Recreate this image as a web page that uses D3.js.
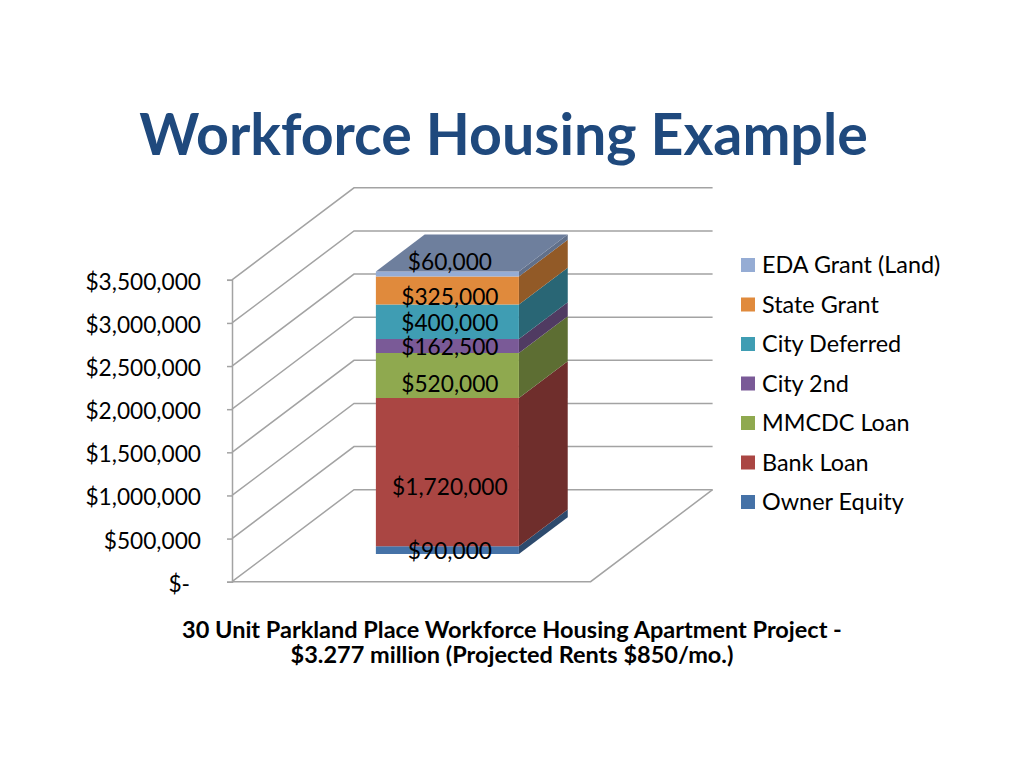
<!DOCTYPE html>
<html>
<head>
<meta charset="utf-8">
<title>Workforce Housing Example</title>
<script src="https://cdn.jsdelivr.net/npm/d3@7"></script>
<style>
    html, body { margin: 0; background: #fff; }
    svg { display: block; }
    text { font-family: Lato, "Open Sans", sans-serif; }
</style>
</head>
<body>
<svg id="chart" width="1024" height="768"></svg>
<script>
// bottom of the stack first
var seriesNames = ["Owner Equity", "Bank Loan", "MMCDC Loan", "City 2nd", "City Deferred", "State Grant", "EDA Grant (Land)"];
var seriesValues = [90000, 1720000, 520000, 162500, 400000, 325000, 60000];
var seriesColors = ["#4572a7", "#aa4643", "#8fa94f", "#7a5a97", "#3f9db3", "#e08a3c", "#95acd4"];
var categories = ["30 Unit Parkland Place"];
var tickValues = [0, 500000, 1000000, 1500000, 2000000, 2500000, 3000000, 3500000];
var tickLabels = ["$-", "$500,000", "$1,000,000", "$1,500,000", "$2,000,000", "$2,500,000", "$3,000,000", "$3,500,000"];
var axisTitle = ["30 Unit Parkland Place Workforce Housing Apartment Project -", "$3.277 million (Projected Rents $850/mo.)"];

var svg = d3.select("#chart");

// the box: front plane plus a depth vector
var depthX = 122, depthY = -92;
var barDepthStart = 0.3, barDepthEnd = 0.7;
var wallRight = 712.6 - depthX;

var y = d3.scaleLinear().domain([0, 3500000]).range([581.7, 279.8]);
var x = d3.scaleBand().domain(categories).range([232, wallRight - 1]).paddingInner(0).paddingOuter(0.75);

function project(px, py, t) {
    return [px + t * depthX, py + t * depthY];
}
var line = d3.line();
var gridColor = "#a3a3a3";

// wall and gridlines
tickValues.forEach(function (v) {
    svg.append("path")
        .attr("d", line([[232, y(v)], project(232, y(v), 1), project(wallRight, y(v), 1)]))
        .attr("fill", "none")
        .attr("stroke", gridColor)
        .attr("stroke-width", 1.5);
});

// floor
svg.append("path")
    .attr("d", line([[232, y(0)], [wallRight, y(0)], project(wallRight, y(0), 1)]))
    .attr("fill", "none")
    .attr("stroke", gridColor)
    .attr("stroke-width", 1.5);

// axis
var axis = d3.axisLeft(y)
    .tickValues(tickValues)
    .tickFormat(function (d, i) { return tickLabels[i]; })
    .tickSize(5)
    .tickPadding(26);

var axisG = svg.append("g")
    .attr("transform", "translate(232,0)")
    .call(axis);
axisG.selectAll("path, line").attr("stroke", gridColor).attr("stroke-width", 1.5);
axisG.selectAll("text")
    .attr("fill", "#000")
    .attr("dy", "0.42em")
    .style("font-family", "Lato, sans-serif")
    .style("font-size", "22.7px");
axisG.selectAll("text").filter(function (d) { return d === 0; }).attr("dx", -11);

// stacked bar
var bx0 = x(categories[0]);
var bx1 = bx0 + x.bandwidth();
var cumulative = d3.cumsum(seriesValues);
var segments = seriesValues.map(function (v, i) {
    return {
        name: seriesNames[i],
        value: v,
        color: seriesColors[i],
        bottom: y(i === 0 ? 0 : cumulative[i - 1]),
        top: y(cumulative[i])
    };
});

var bars = svg.append("g").selectAll("g")
    .data(segments)
    .enter().append("g");

bars.append("path")
    .attr("fill", function (d) { return d3.color(d.color).darker(1.2); })
    .attr("d", function (d) {
        return line([
            project(bx1, d.bottom, barDepthStart),
            project(bx1, d.bottom, barDepthEnd),
            project(bx1, d.top, barDepthEnd),
            project(bx1, d.top, barDepthStart)
        ]) + "Z";
    });

bars.append("path")
    .attr("fill", function (d) { return d.color; })
    .attr("d", function (d) {
        return line([
            project(bx0, d.bottom, barDepthStart),
            project(bx1, d.bottom, barDepthStart),
            project(bx1, d.top, barDepthStart),
            project(bx0, d.top, barDepthStart)
        ]) + "Z";
    });

var last = segments[segments.length - 1];
svg.append("path")
    .attr("fill", d3.color(last.color).darker(0.85))
    .attr("d", line([
        project(bx0, last.top, barDepthStart),
        project(bx1, last.top, barDepthStart),
        project(bx1, last.top, barDepthEnd),
        project(bx0, last.top, barDepthEnd)
    ]) + "Z");

// data labels sit off the segment centres
var labelNudge = [1, 14.5, 9, 1, 1, 6, -12];
svg.append("g").selectAll("text")
    .data(segments)
    .enter().append("text")
    .attr("x", project((bx0 + bx1) / 2, 0, barDepthStart)[0] + 2.5)
    .attr("y", function (d, i) {
        return project(0, (d.top + d.bottom) / 2, barDepthStart)[1] + labelNudge[i];
    })
    .attr("dy", "0.35em")
    .attr("text-anchor", "middle")
    .style("font-size", "22.7px")
    .text(function (d) { return "$" + d3.format(",")(d.value); });

// legend, top entry is the last series
var legendTop = 265, legendStep = 39.5;
var legend = svg.append("g").selectAll("g")
    .data(segments.slice().reverse())
    .enter().append("g")
    .attr("transform", function (d, i) { return "translate(741," + (legendTop + i * legendStep) + ")"; });

legend.append("rect")
    .attr("y", -7)
    .attr("width", 14)
    .attr("height", 14)
    .attr("fill", function (d) { return d.color; });

legend.append("text")
    .attr("x", 21)
    .attr("dy", "0.35em")
    .style("font-size", "23.4px")
    .text(function (d) { return d.name; });

// titles
svg.append("text")
    .attr("x", 503.5)
    .attr("y", 155)
    .attr("text-anchor", "middle")
    .attr("fill", "#1f497d")
    .style("font-size", "57.3px")
    .style("font-weight", "bold")
    .text("Workforce Housing Example");

svg.append("g").selectAll("text")
    .data(axisTitle)
    .enter().append("text")
    .attr("x", 512)
    .attr("y", function (d, i) { return 638 + i * 25; })
    .attr("text-anchor", "middle")
    .style("font-size", "23.5px")
    .style("font-weight", "bold")
    .text(function (d) { return d; });
</script>
</body>
</html>
